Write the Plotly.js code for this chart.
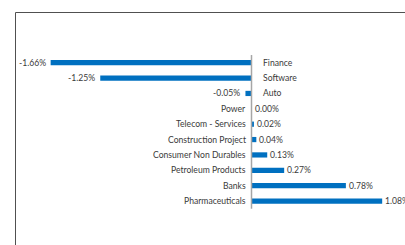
<!DOCTYPE html>
<html>
<head>
<meta charset="utf-8">
<script src="https://cdn.plot.ly/plotly-3.0.1.min.js"></script>
<style>html,body{margin:0;padding:0;background:#fff;}#chart{width:405px;height:245px;}</style>
</head>
<body>
<div id="chart"></div>
<script>
const sectors = ["Finance","Software","Auto","Power","Telecom - Services","Construction Project","Consumer Non Durables","Petroleum Products","Banks","Pharmaceuticals"];
const changes = [-1.66,-1.25,-0.05,0.00,0.02,0.04,0.13,0.27,0.78,1.08];

const FONT = "Lato, 'Open Sans', sans-serif";
const TXT = "#3a3a3a";
const annotations = [];
sectors.forEach((s, i) => {
  const v = changes[i];
  const neg = v < 0;
  annotations.push({
    x: 0, y: s, xref: 'x', yref: 'y', text: s, showarrow: false,
    xanchor: neg ? 'left' : 'right', xshift: neg ? 9 : -4,
    font: {family: FONT, size: 8.6, color: TXT}
  });
  annotations.push({
    x: v, y: s, xref: 'x', yref: 'y', text: v.toFixed(2) + '%', showarrow: false,
    xanchor: neg ? 'right' : 'left', xshift: neg ? -3 : 1,
    font: {family: FONT, size: 8.6, color: TXT}
  });
});

const trace = {
  type: 'bar', orientation: 'h', x: changes, y: sectors,
  marker: {color: '#0070C0'}, width: 0.34, hoverinfo: 'none'
};

const layout = {
  width: 405, height: 245,
  margin: {l: 0, r: 0, t: 0, b: 0},
  paper_bgcolor: '#fff', plot_bgcolor: 'rgba(0,0,0,0)',
  showlegend: false,
  xaxis: {range: [-2.0785, 1.2686], visible: false, fixedrange: true},
  yaxis: {type: 'category', range: [11.86, -4.08], visible: false, fixedrange: true},
  annotations: annotations,
  shapes: [
    {type: 'line', xref: 'x', yref: 'y', x0: 0, x1: 0, y0: -0.5, y1: 9.5,
     line: {color: '#A6A6A6', width: 1.5}},
    {type: 'rect', xref: 'paper', yref: 'paper', x0: 15.5/405, x1: 1.1, y0: -0.1, y1: 1 - 12.5/245,
     line: {color: '#505050', width: 1}}
  ]
};
Plotly.newPlot('chart', [trace], layout, {staticPlot: true, displayModeBar: false});
</script>
</body>
</html>
